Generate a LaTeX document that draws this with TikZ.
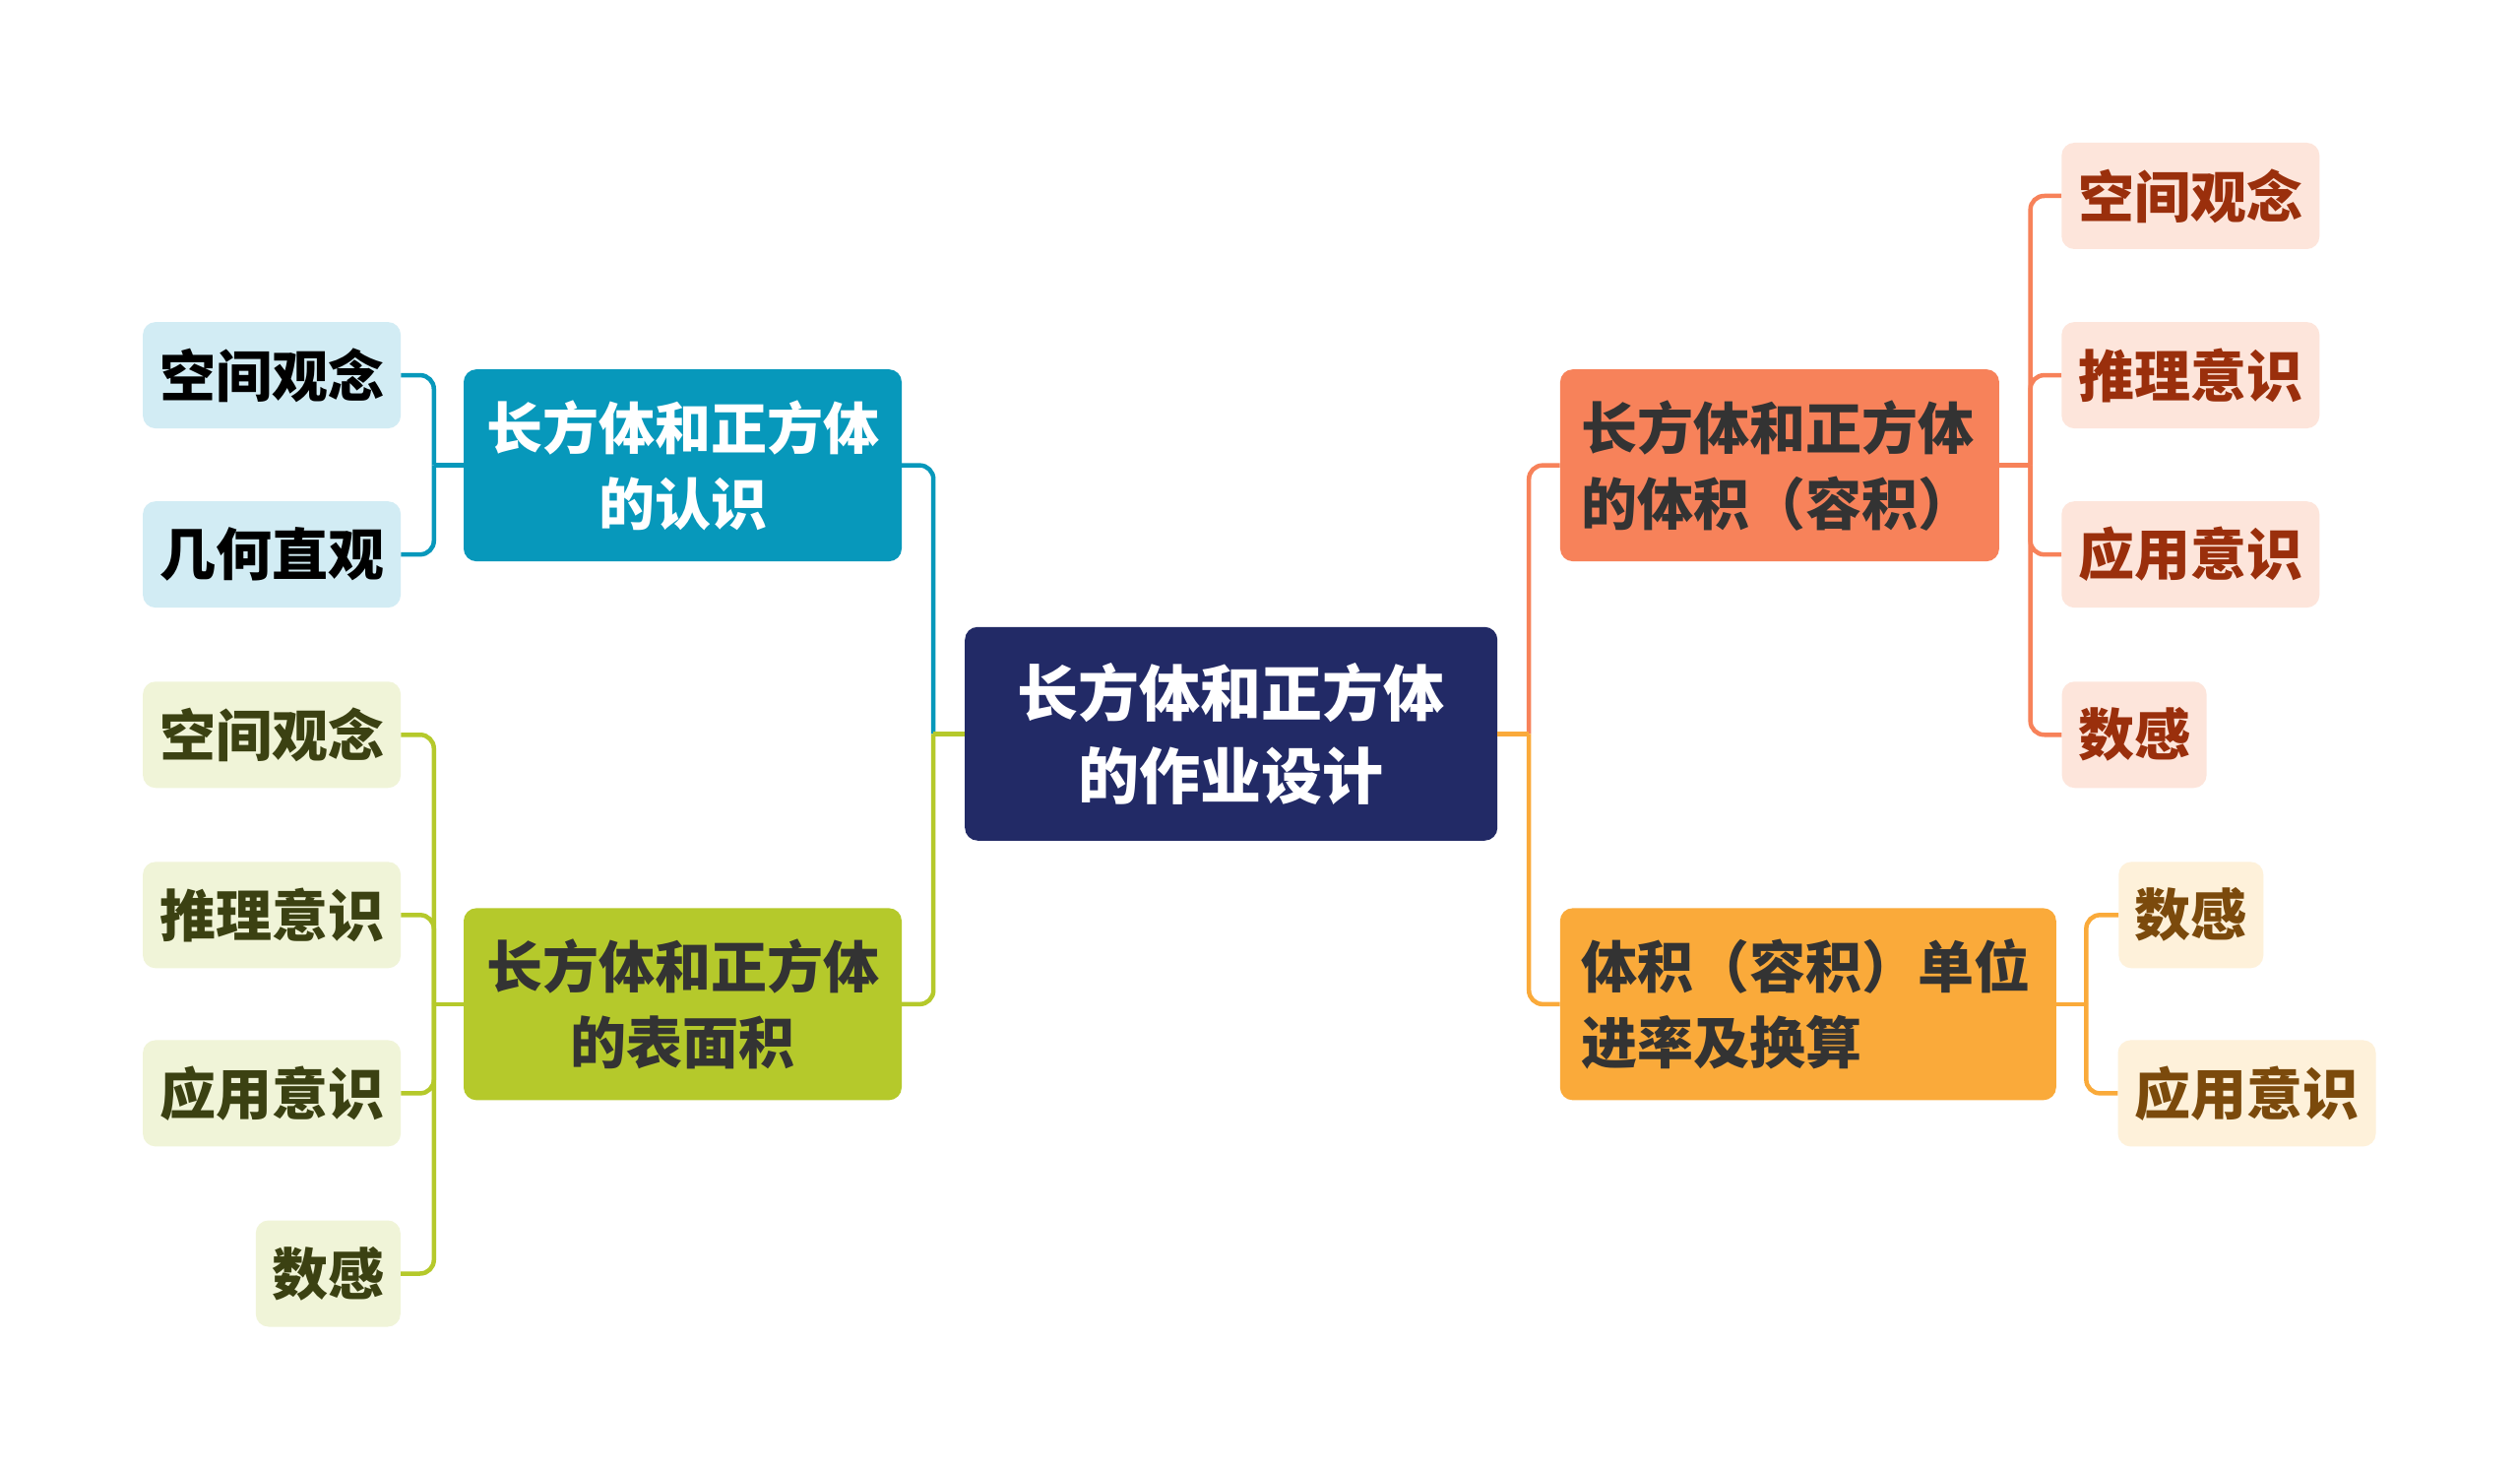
\documentclass[tikz,border=0pt]{standalone}
\usepackage{fontspec}
\setmainfont{Noto Sans CJK SC}
\usetikzlibrary{calc}
\definecolor{navy}{HTML}{222A66}
\definecolor{tealA}{HTML}{0798BB}
\definecolor{tealL}{HTML}{D2ECF4}
\definecolor{grn}{HTML}{B5C92B}
\definecolor{grnL}{HTML}{F0F4D8}
\definecolor{grnT}{HTML}{3B4112}
\definecolor{org}{HTML}{F7825A}
\definecolor{orgL}{HTML}{FDE5DB}
\definecolor{orgT}{HTML}{9A2F0C}
\definecolor{yel}{HTML}{FAAA3A}
\definecolor{yelL}{HTML}{FEF1DA}
\definecolor{yelT}{HTML}{7B4A0C}
\definecolor{txtD}{HTML}{333333}
\tikzset{
  box/.style={rounded corners=13, inner sep=0pt},
  leaf/.style={box, minimum height=108, font=\bfseries\fontsize{57}{70}\selectfont},
  leafw/.style={leaf, minimum width=262},
  leafn/.style={leaf, minimum width=147},
  branch/.style={box, minimum height=195, font=\bfseries\fontsize{57}{77}\selectfont},
  link/.style={line width=4.5, rounded corners=14},
}
\begin{document}
\begin{tikzpicture}[x=0.995pt,y=-0.995pt]
\useasboundingbox[fill=white] (0pt,0pt) rectangle (2560pt,-1493pt);
% center
\node[box, fill=navy, text=white, minimum width=541, minimum height=217, align=center,
      font=\bfseries\fontsize{62}{84}\selectfont] (c) at (1257,749) {长方体和正方体\\的作业设计};
% branches
\node[branch, fill=tealA, text=white, minimum width=445, align=center] (t1) at (697,475) {长方体和正方体\\的认识};
\node[branch, fill=grn, text=txtD, minimum width=445, align=center] (t2) at (697,1025) {长方体和正方体\\的表面积};
\node[branch, fill=org, text=txtD, minimum width=446, text width=402, inner xsep=22, align=left] (t3) at (1817,475) {长方体和正方体\\的体积（容积）};
\node[branch, fill=yel, text=txtD, minimum width=504, text width=460, inner xsep=22, align=left] (t4) at (1846,1025) {体积（容积）单位\\进率及换算};
% teal leaves
\node[leafw, fill=tealL, text=black] (a1) at (277.5,383) {空间观念};
\node[leafw, fill=tealL, text=black] (a2) at (277.5,566) {几何直观};
% green leaves
\node[leafw, fill=grnL, text=grnT] (b1) at (277.5,750) {空间观念};
\node[leafw, fill=grnL, text=grnT] (b2) at (277.5,934) {推理意识};
\node[leafw, fill=grnL, text=grnT] (b3) at (277.5,1116) {应用意识};
\node[leafn, fill=grnL, text=grnT] (b4) at (335,1300) {数感};
% orange leaves
\node[leafw, fill=orgL, text=orgT] (o1) at (2236.5,200) {空间观念};
\node[leafw, fill=orgL, text=orgT] (o2) at (2236.5,383) {推理意识};
\node[leafw, fill=orgL, text=orgT] (o3) at (2236.5,566) {应用意识};
\node[leafn, fill=orgL, text=orgT] (o4) at (2179,750) {数感};
% yellow leaves
\node[leafn, fill=yelL, text=yelT] (y1) at (2237,934) {数感};
\node[leafw, fill=yelL, text=yelT] (y2) at (2294,1116) {应用意识};
% junctions
\coordinate (jL) at (953,749);
\coordinate (jR) at (1561,749);
\coordinate (jA) at (443,475);
\coordinate (jB) at (443,1025);
\coordinate (jO) at (2073,475);
\coordinate (jY) at (2130,1025);
% center links
\draw[link, tealA] (jL) |- (t1.east);
\draw[link, grn] (jL) |- (t2.east);
\draw[link, grn] (c.west) -- (jL);
\draw[link, org] (jR) |- (t3.west);
\draw[link, yel] (jR) |- (t4.west);
\draw[link, yel] (c.east) -- (jR);
% teal
\draw[link, tealA] (t1.west) -- (jA);
\draw[link, tealA] (jA) |- (a1.east);
\draw[link, tealA] (jA) |- (a2.east);
% green
\draw[link, grn] (t2.west) -- (jB);
\draw[link, grn] (jB) |- (b1.east);
\draw[link, grn] (jB) |- (b2.east);
\draw[link, grn] (jB) |- (b3.east);
\draw[link, grn] (jB) |- (b4.east);
% orange
\draw[link, org] (t3.east) -- (jO);
\draw[link, org] (jO) |- (o1.west);
\draw[link, org] (jO) |- (o2.west);
\draw[link, org] (jO) |- (o3.west);
\draw[link, org] (jO) |- (o4.west);
% yellow
\draw[link, yel] (t4.east) -- (jY);
\draw[link, yel] (jY) |- (y1.west);
\draw[link, yel] (jY) |- (y2.west);
\end{tikzpicture}
\end{document}
